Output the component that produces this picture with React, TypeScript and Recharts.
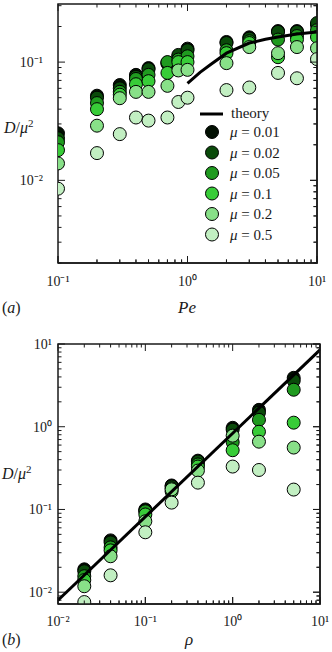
import React from "react";
import { ScatterChart, Scatter, XAxis, YAxis, Legend, ReferenceLine, ReferenceArea } from "recharts";

const FONT = "Liberation Serif";
const INK = "#1a1a1a";

const muLabels = ["0.01", "0.02", "0.05", "0.1", "0.2", "0.5"];
const muColors = ["#021002", "#0a4a0a", "#1f9a1f", "#38cc38", "#88e088", "#c2efc2"];

// panel (a): D/mu^2 vs Pe
const pe = [0.1, 0.2, 0.3, 0.4, 0.5, 0.7, 0.85, 1, 2, 3, 5, 7, 10];
const peMu001 = [0.025, 0.052, 0.064, 0.078, 0.089, 0.097, 0.112, 0.13, 0.148, 0.162, 0.183, 0.183, 0.206];
const peMu002 = [0.0227, 0.05, 0.06, 0.075, 0.087, 0.099, 0.115, 0.126, 0.145, 0.158, 0.18, 0.18, 0.214];
const peMu005 = [0.021, 0.045, 0.056, 0.072, 0.078, 0.1, 0.105, 0.112, 0.126, 0.15, 0.155, 0.166, 0.186];
const peMu01 = [0.018, 0.04, 0.053, 0.065, 0.069, 0.081, 0.1, 0.1, 0.119, 0.145, 0.11, 0.155, 0.163];
const peMu02 = [0.0139, 0.029, 0.0495, 0.056, 0.056, 0.063, 0.085, 0.086, 0.098, 0.134, 0.119, 0.134, 0.131];
const peMu05 = [0.0085, 0.017, 0.0246, 0.034, 0.032, 0.034, 0.046, 0.05, 0.058, 0.061, 0.081, 0.073, 0.106];
const peSeries = [peMu001, peMu002, peMu005, peMu01, peMu02, peMu05];

const peTheoryX = [1, 1.25, 1.5, 2, 3, 4, 5, 7, 10];
const peTheoryY = [0.066, 0.082, 0.095, 0.119, 0.145, 0.156, 0.163, 0.173, 0.18];

const peMajor = [0.1, 1, 10];
const peMinor = [0.2, 0.3, 0.4, 0.5, 0.6, 0.7, 0.8, 0.9, 2, 3, 4, 5, 6, 7, 8, 9];
const peDMajor = [0.01, 0.1];
const peDMinor = [0.002, 0.003, 0.004, 0.005, 0.006, 0.007, 0.008, 0.009, 0.02, 0.03, 0.04, 0.05, 0.06, 0.07, 0.08, 0.09, 0.2, 0.3];

// panel (b): D/mu^2 vs rho
const rho = [0.02, 0.04, 0.1, 0.2, 0.4, 1, 2, 5];
const rhoMu001 = [0.0189, 0.0423, 0.1, 0.195, 0.389, 0.97, 1.6, 3.9];
const rhoMu002 = [0.0179, 0.04, 0.097, 0.19, 0.38, 0.92, 1.48, 3.6];
const rhoMu005 = [0.0156, 0.0348, 0.095, 0.18, 0.35, 0.65, 1.21, 2.8];
const rhoMu01 = [0.014, 0.032, 0.087, 0.165, 0.33, 0.52, 0.87, 1.12];
const rhoMu02 = [0.0118, 0.0272, 0.072, 0.175, 0.295, 0.78, 0.66, 0.56];
const rhoMu05 = [0.0076, 0.016, 0.053, 0.121, 0.211, 0.33, 0.3, 0.174];
const rhoSeries = [rhoMu001, rhoMu002, rhoMu005, rhoMu01, rhoMu02, rhoMu05];

const rhoTheoryX = [0.01, 10];
const rhoTheoryY = [0.008, 8.5];

const rhoMajor = [0.01, 0.1, 1, 10];
const rhoMinor = [0.02, 0.03, 0.04, 0.05, 0.06, 0.07, 0.08, 0.09, 0.2, 0.3, 0.4, 0.5, 0.6, 0.7, 0.8, 0.9, 2, 3, 4, 5, 6, 7, 8, 9];
const rhoDMajor = [0.01, 0.1, 1, 10];
const rhoDMinor = [0.008, 0.009, 0.02, 0.03, 0.04, 0.05, 0.06, 0.07, 0.08, 0.09, 0.2, 0.3, 0.4, 0.5, 0.6, 0.7, 0.8, 0.9, 2, 3, 4, 5, 6, 7, 8, 9];

const zip = (xs: number[], ys: number[]) => xs.map((x, i) => ({ x, y: ys[i] }));

const SUP: Record<string, string> = { "-": "\u207b", "0": "\u2070", "1": "\u00b9", "2": "\u00b2", "3": "\u00b3" };
const pow10 = (v: number) => "10" + String(Math.round(Math.log10(v))).split("").map(c => SUP[c] ?? c).join("");

// inward ticks on both ends of a reference line
const tickShape = (len: number) => (props: any) => {
  const { x1, y1, x2, y2 } = props;
  if (Math.abs(x1 - x2) < 0.01) {
    const top = Math.min(y1, y2);
    const bot = Math.max(y1, y2);
    return <path d={`M${x1},${bot}v${-len}M${x1},${top}v${len}`} stroke={INK} strokeWidth={1} fill="none" />;
  }
  const l = Math.min(x1, x2);
  const r = Math.max(x1, x2);
  return <path d={`M${l},${y1}h${len}M${r},${y1}h${-len}`} stroke={INK} strokeWidth={1} fill="none" />;
};
const majorTick = tickShape(7);
const minorTick = tickShape(3.5);

const Dot = (props: any) => (
  <circle cx={props.cx} cy={props.cy} r={6.5} fill={props.fill} stroke="#000" strokeWidth={1} />
);
const NoDot = () => <g />;

const renderLegend = () => (
  <svg width={110} height={140}>
    <line x1={2} x2={25} y1={8} y2={8} stroke="#000" strokeWidth={3} />
    <text x={33} y={12} fontFamily={FONT} fontSize={15} fill={INK}>theory</text>
    {muLabels.map((m, i) => (
      <g key={m}>
        <circle cx={14} cy={26 + 20.5 * i} r={6.5} fill={muColors[i]} stroke="#000" strokeWidth={1} />
        <text x={32} y={31 + 20.5 * i} fontFamily={FONT} fontSize={15} fill={INK}>
          <tspan fontStyle="italic">μ</tspan> = {m}
        </text>
      </g>
    ))}
  </svg>
);

const tickFont = { fontFamily: FONT, fontSize: 14, fill: INK };

function frameAndTicks(xDom: number[], yDom: number[], xMaj: number[], xMin: number[], yMaj: number[], yMin: number[]) {
  const ax = { xAxisId: "x", yAxisId: "y", ifOverflow: "visible" as const };
  return [
    ...xMin.map(v => <ReferenceLine key={`xm${v}`} {...ax} x={v} shape={minorTick} />),
    ...xMaj.map(v => <ReferenceLine key={`xM${v}`} {...ax} x={v} shape={majorTick} />),
    ...yMin.map(v => <ReferenceLine key={`ym${v}`} {...ax} y={v} shape={minorTick} />),
    ...yMaj.map(v => <ReferenceLine key={`yM${v}`} {...ax} y={v} shape={majorTick} />),
    <ReferenceArea key="frame" {...ax} x1={xDom[0]} x2={xDom[1]} y1={yDom[0]} y2={yDom[1]}
      fill="none" stroke={INK} strokeWidth={1.5} />,
  ];
}

// bottom and right edges of the frame with their inward ticks
function edgePath(box: { left: number; top: number; right: number; bottom: number },
  xDom: number[], yDom: number[], xMaj: number[], xMin: number[], yMaj: number[], yMin: number[]) {
  const lx0 = Math.log10(xDom[0]);
  const lx1 = Math.log10(xDom[1]);
  const ly0 = Math.log10(yDom[0]);
  const ly1 = Math.log10(yDom[1]);
  const sx = (v: number) => box.left + ((Math.log10(v) - lx0) / (lx1 - lx0)) * (box.right - box.left);
  const sy = (v: number) => box.bottom - ((Math.log10(v) - ly0) / (ly1 - ly0)) * (box.bottom - box.top);
  let d = "";
  xMaj.forEach(v => { d += `M${sx(v)},${box.bottom}v-7`; });
  xMin.forEach(v => { d += `M${sx(v)},${box.bottom}v-3.5`; });
  yMaj.forEach(v => { d += `M${box.right},${sy(v)}h-7`; });
  yMin.forEach(v => { d += `M${box.right},${sy(v)}h-3.5`; });
  return { ticks: d, edge: `M${box.left},${box.bottom}H${box.right}V${box.top}` };
}

function YTitle({ x, y }: { x: number; y: number }) {
  return (
    <text x={x} y={y} fontFamily={FONT} fontSize={16} fill={INK}>
      <tspan fontStyle="italic">D</tspan>/<tspan fontStyle="italic">μ</tspan>
      <tspan dy={-6} fontSize={11}>2</tspan>
    </text>
  );
}

export default function App() {
  const peDomain = [0.1, 10];
  const peDDomain = [0.002, 0.31];
  const rhoDomain = [0.01, 10];
  const rhoDDomain = [0.0072, 10];
  const edgeA = edgePath({ left: 58, top: 4, right: 317, bottom: 263 }, peDomain, peDDomain, peMajor, peMinor, peDMajor, peDMinor);
  const edgeB = edgePath({ left: 58, top: 344, right: 320, bottom: 604 }, rhoDomain, rhoDDomain, rhoMajor, rhoMinor, rhoDMajor, rhoDMinor);

  return (
    <div style={{ position: "relative", width: 332, height: 652, background: "#fff", overflow: "hidden" }}>
      <style>{"body{margin:0}"}</style>

      <div style={{ position: "absolute", left: 0, top: 0 }}>
        <ScatterChart width={332} height={300} margin={{ top: 4, right: 15, bottom: 0, left: 0 }}>
          <XAxis xAxisId="x" dataKey="x" type="number" scale="log" domain={peDomain} allowDataOverflow
            ticks={peMajor} height={37} tickMargin={7} tickLine={false} axisLine={false}
            tick={tickFont} tickFormatter={pow10} />
          <YAxis yAxisId="y" dataKey="y" type="number" scale="log" domain={peDDomain} allowDataOverflow
            ticks={peDMajor} width={58} tickMargin={9} tickLine={false} axisLine={false}
            tick={tickFont} tickFormatter={pow10} />
          {peSeries.map((ys, i) => (
            <Scatter key={muLabels[i]} name={muLabels[i]} xAxisId="x" yAxisId="y" data={zip(pe, ys)}
              fill={muColors[i]} shape={Dot} isAnimationActive={false} />
          ))}
          <Scatter name="theory" xAxisId="x" yAxisId="y" data={zip(peTheoryX, peTheoryY)} shape={NoDot}
            line={{ stroke: "#000", strokeWidth: 3 }} lineType="joint" isAnimationActive={false} />
          {frameAndTicks(peDomain, peDDomain, peMajor, peMinor, peDMajor, peDMinor)}
          <Legend layout="vertical" align="center" verticalAlign="middle" content={renderLegend}
            wrapperStyle={{ left: 198, top: 106, width: 110, height: 140 }} />
        </ScatterChart>
      </div>

      <div style={{ position: "absolute", left: 0, top: 320 }}>
        <ScatterChart width={332} height={332} margin={{ top: 24, right: 12, bottom: 0, left: 0 }}>
          <XAxis xAxisId="x" dataKey="x" type="number" scale="log" domain={rhoDomain} allowDataOverflow
            ticks={rhoMajor} height={48} tickMargin={6} tickLine={false} axisLine={false}
            tick={tickFont} tickFormatter={pow10} />
          <YAxis yAxisId="y" dataKey="y" type="number" scale="log" domain={rhoDDomain} allowDataOverflow
            ticks={rhoDMajor} width={58} tickSize={4} tickMargin={2} tickLine={false} axisLine={false}
            tick={tickFont} tickFormatter={pow10} />
          {rhoSeries.map((ys, i) => (
            <Scatter key={muLabels[i]} name={muLabels[i]} xAxisId="x" yAxisId="y" data={zip(rho, ys)}
              fill={muColors[i]} shape={Dot} isAnimationActive={false} />
          ))}
          <Scatter name="theory" xAxisId="x" yAxisId="y" data={zip(rhoTheoryX, rhoTheoryY)} shape={NoDot}
            line={{ stroke: "#000", strokeWidth: 3 }} lineType="joint" isAnimationActive={false} />
          {frameAndTicks(rhoDomain, rhoDDomain, rhoMajor, rhoMinor, rhoDMajor, rhoDMinor)}
        </ScatterChart>
      </div>

      <svg width={332} height={652} style={{ position: "absolute", left: 0, top: 0, pointerEvents: "none" }}>
        <path d={edgeA.ticks} stroke={INK} strokeWidth={1} fill="none" />
        <path d={edgeA.edge} stroke={INK} strokeWidth={1.5} fill="none" />
        <path d={edgeB.ticks} stroke={INK} strokeWidth={1} fill="none" />
        <path d={edgeB.edge} stroke={INK} strokeWidth={1.5} fill="none" />

        <YTitle x={4} y={133} />
        <text x={2} y={313} fontFamily={FONT} fontSize={16} fill={INK}>(<tspan fontStyle="italic">a</tspan>)</text>
        <text x={187} y={313} textAnchor="middle" fontFamily={FONT} fontSize={17} fontStyle="italic" fill={INK}>Pe</text>

        <YTitle x={2} y={479} />
        <text x={2} y={645} fontFamily={FONT} fontSize={16} fill={INK}>(<tspan fontStyle="italic">b</tspan>)</text>
        <text x={189} y={645} textAnchor="middle" fontFamily={FONT} fontSize={17} fontStyle="italic" fill={INK}>ρ</text>
      </svg>
    </div>
  );
}
